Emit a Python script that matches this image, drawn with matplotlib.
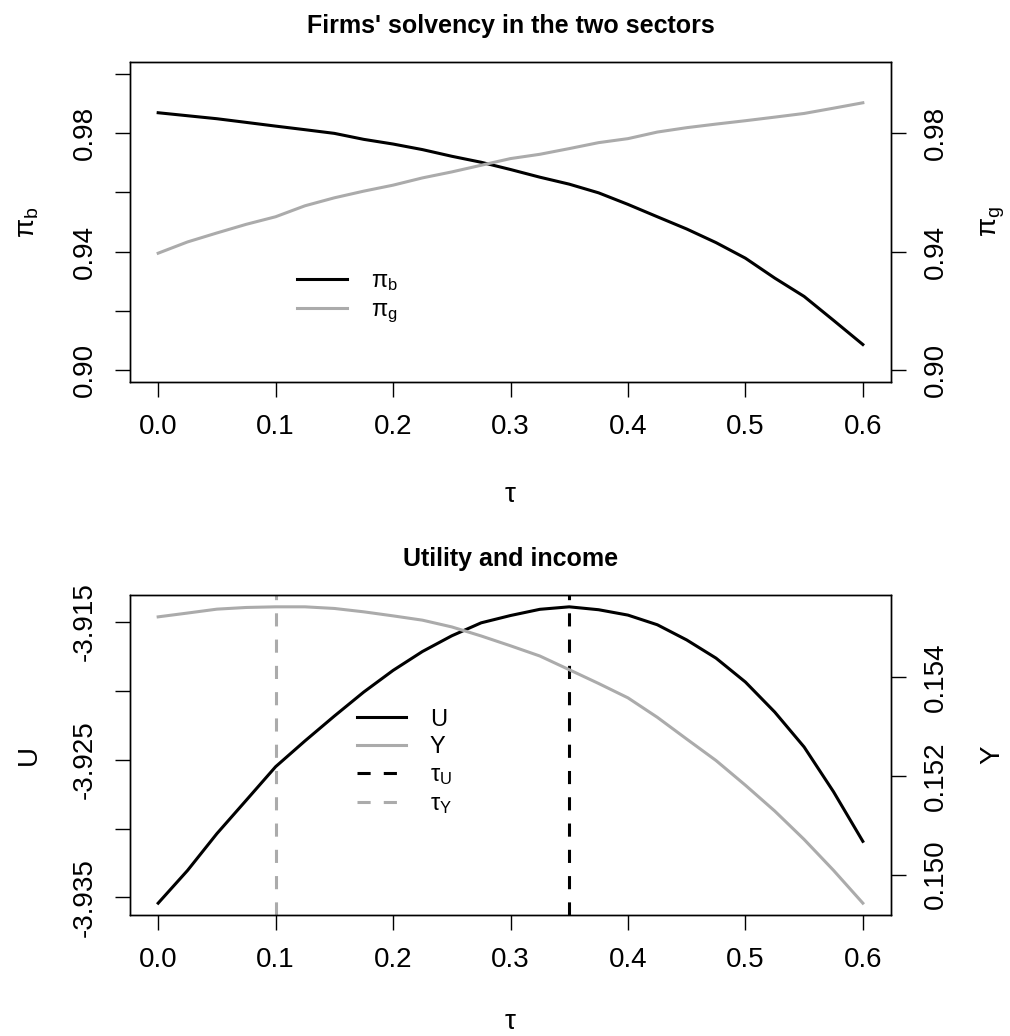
import numpy as np
import matplotlib.pyplot as plt
from matplotlib.lines import Line2D

plt.rcParams['font.family'] = ['Liberation Sans', 'DejaVu Sans']
plt.rcParams['mathtext.fontset'] = 'custom'
plt.rcParams['mathtext.rm'] = 'Liberation Sans'
plt.rcParams['mathtext.it'] = 'Liberation Sans'
plt.rcParams['mathtext.bf'] = 'Liberation Sans:bold'

# tax rate grid
tau = [0.0, 0.025, 0.05, 0.075, 0.1, 0.125, 0.15, 0.175, 0.2, 0.225, 0.25,
       0.275, 0.3, 0.325, 0.35, 0.375, 0.4, 0.425, 0.45, 0.475, 0.5, 0.525,
       0.55, 0.575, 0.6]

# firms' solvency
pi_b = [0.98686, 0.98585, 0.98484, 0.98360, 0.98235, 0.98114, 0.97990,
        0.97788, 0.97630, 0.97442, 0.97217, 0.97015, 0.96770, 0.96511,
        0.96276, 0.95983, 0.95593, 0.95176, 0.94763, 0.94303, 0.93778,
        0.93106, 0.92487, 0.91681, 0.90864]
pi_g = [0.93946, 0.94326, 0.94629, 0.94921, 0.95176, 0.95546, 0.95815,
        0.96040, 0.96242, 0.96487, 0.96689, 0.96914, 0.97139, 0.97284,
        0.97476, 0.97677, 0.97812, 0.98034, 0.98182, 0.98303, 0.98417,
        0.98538, 0.98662, 0.98840, 0.99022]

# utility and income
U = [-3.93541, -3.93304, -3.93037, -3.92795, -3.92552, -3.92365, -3.92185,
     -3.92011, -3.91854, -3.91717, -3.91603, -3.91509, -3.91456, -3.91411,
     -3.91393, -3.91414, -3.91453, -3.91523, -3.91633, -3.91765, -3.91938,
     -3.92156, -3.92409, -3.92733, -3.93093]
Y = [0.155220, 0.155297, 0.155376, 0.155410, 0.155423, 0.155423, 0.155390,
     0.155322, 0.155240, 0.155153, 0.155016, 0.154833, 0.154634, 0.154427,
     0.154150, 0.153871, 0.153580, 0.153186, 0.152746, 0.152311, 0.151811,
     0.151288, 0.150713, 0.150088, 0.149423]

tau_U = 0.35
tau_Y = 0.10

grey = '#ABABAB'
lw = 2.2
fs = 20
dash = (0, (4.3, 4.3))

fig = plt.figure(figsize=(10.1, 10.36), dpi=100)


def style_axis(ax):
    for s in ax.spines.values():
        s.set_linewidth(1.0)
    ax.tick_params(axis='both', direction='out', length=11, width=1.0,
                   labelsize=fs)
    ax.tick_params(axis='x', pad=12)
    ax.tick_params(axis='y', pad=12, labelrotation=90)
    plt.setp(ax.get_yticklabels(), va='center')


xt = [0, 0.1, 0.2, 0.3, 0.4, 0.5, 0.6]
xtl = ['0.0', '0.1', '0.2', '0.3', '0.4', '0.5', '0.6']

# ---- top panel
ax1 = fig.add_axes([0.1287, 0.6313, 0.7535, 0.3089])
ax1.plot(tau, pi_b, color='black', lw=lw)
ax1.set_xlim(-0.024, 0.624)
ax1.set_ylim(0.896, 1.004)
ax1.set_xticks(xt)
ax1.set_xticklabels(xtl)
ax1.set_yticks([0.90, 0.92, 0.94, 0.96, 0.98, 1.00])
ax1.set_yticklabels(['0.90', '', '0.94', '', '0.98', ''])
style_axis(ax1)
ax1.set_xlabel(r'$\tau$', fontsize=fs, labelpad=30)
ax1.set_ylabel(r'$\pi_b$', fontsize=fs, labelpad=22)
ax1.set_title("Firms' solvency in the two sectors", fontsize=18,
              fontweight='bold', pad=21)

ax1r = ax1.twinx()
ax1r.plot(tau, pi_g, color=grey, lw=lw)
ax1r.set_ylim(0.896, 1.004)
ax1r.set_yticks([0.90, 0.94, 0.98])
ax1r.set_yticklabels(['0.90', '0.94', '0.98'])
style_axis(ax1r)
ax1r.set_ylabel(r'$\pi_g$', fontsize=fs, labelpad=22)

handles = [Line2D([], [], color='black', lw=lw),
           Line2D([], [], color=grey, lw=lw)]
ax1.legend(handles, [r'$\pi_b$', r'$\pi_g$'], loc='upper left',
           bbox_to_anchor=(0.22, 0.35), frameon=False, fontsize=17,
           borderpad=0, borderaxespad=0, handlelength=2.1,
           handletextpad=1.0, labelspacing=0.25)

# ---- bottom panel
ax2 = fig.add_axes([0.1287, 0.1168, 0.7535, 0.3089])
ax2.plot(tau, U, color='black', lw=lw)
ax2.axvline(tau_U, color='black', lw=lw, ls=dash)
ax2.axvline(tau_Y, color=grey, lw=lw, ls=dash)
ax2.set_xlim(-0.024, 0.624)
ax2.margins(y=0.04)
ax2.set_xticks(xt)
ax2.set_xticklabels(xtl)
ax2.set_yticks([-3.935, -3.930, -3.925, -3.920, -3.915])
ax2.set_yticklabels(['-3.935', '', '-3.925', '', '-3.915'])
style_axis(ax2)
ax2.set_xlabel(r'$\tau$', fontsize=fs, labelpad=26)
ax2.set_ylabel('U', fontsize=fs, labelpad=22)
ax2.set_title('Utility and income', fontsize=18, fontweight='bold', pad=21)

ax2r = ax2.twinx()
ax2r.plot(tau, Y, color=grey, lw=lw)
ax2r.margins(y=0.04)
ax2r.set_yticks([0.150, 0.152, 0.154])
ax2r.set_yticklabels(['0.150', '0.152', '0.154'])
style_axis(ax2r)
ax2r.set_ylabel('Y', fontsize=fs, labelpad=22)

handles = [Line2D([], [], color='black', lw=lw),
           Line2D([], [], color=grey, lw=lw),
           Line2D([], [], color='black', lw=lw, ls=dash),
           Line2D([], [], color=grey, lw=lw, ls=dash)]
ax2.legend(handles, ['U', 'Y', r'$\tau_U$', r'$\tau_Y$'], loc='upper left',
           bbox_to_anchor=(0.298, 0.645), frameon=False, fontsize=17,
           borderpad=0, borderaxespad=0, handlelength=2.1,
           handletextpad=1.0, labelspacing=0.25)

fig.savefig('out.png', dpi=100)
